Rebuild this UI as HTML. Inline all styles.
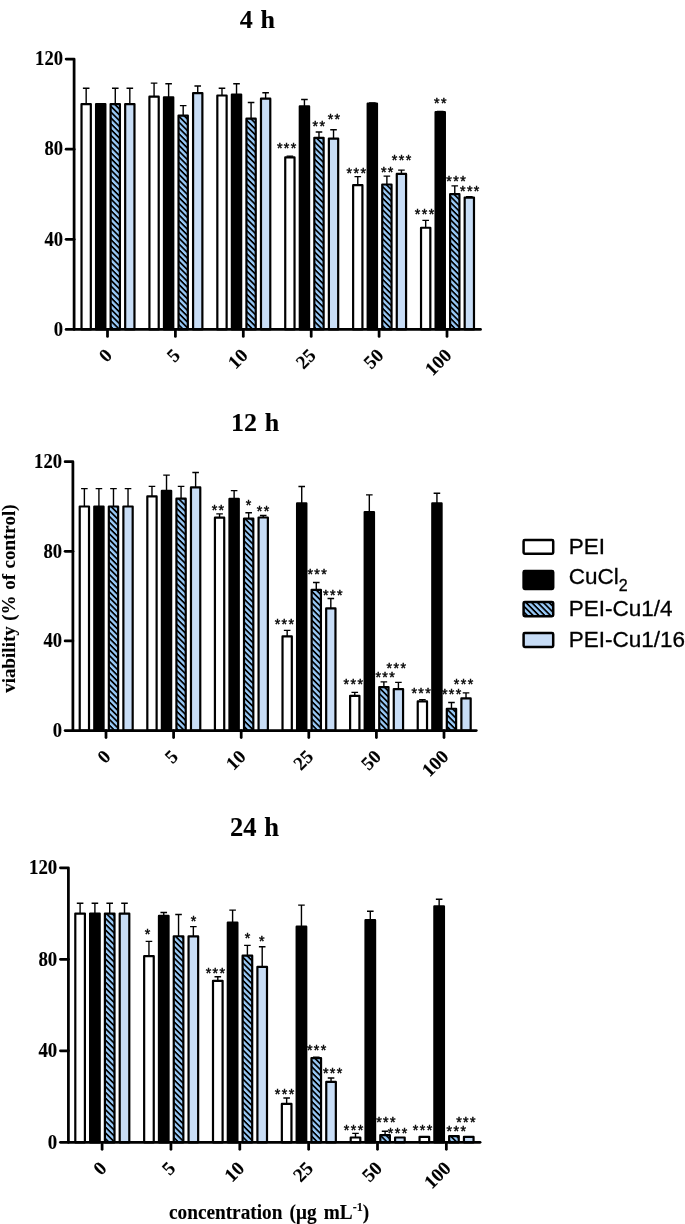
<!DOCTYPE html>
<html lang="en"><head><meta charset="utf-8"><title>Cell viability</title>
<style>html,body{margin:0;padding:0;background:#fff}body{width:685px;height:1224px;overflow:hidden}svg{display:block;will-change:transform;filter:blur(.45px)}
.t{font-family:"Liberation Serif","DejaVu Serif",serif;font-weight:bold;fill:#000;stroke:#000;stroke-width:.12px}.s{font-family:"Liberation Sans","DejaVu Sans",sans-serif;fill:#000;stroke:#000;stroke-width:.3px}.st{font-family:"Liberation Sans","DejaVu Sans",sans-serif;fill:#000;font-size:14.2px;text-anchor:middle;letter-spacing:1.4px;stroke:#000;stroke-width:.45px}
</style></head><body>
<svg width="685" height="1224" viewBox="0 0 685 1224">
<defs><pattern id="h" width="4.1" height="4.1" patternUnits="userSpaceOnUse" patternTransform="rotate(45)"><rect width="4.1" height="4.1" fill="#99caf8"/><rect width="4.1" height="1.75" fill="#000"/></pattern></defs>
<rect width="685" height="1224" fill="#fff"/>
<g>
<text class="t" x="257.4" y="27.8" font-size="26.0" word-spacing="1.3" text-anchor="middle">4 h</text>
<path d="M86.17 104.07V88.29M82.88 88.29H89.47" stroke="#000" stroke-width="1.4" fill="none"/>
<rect x="81.52" y="104.07" width="9.30" height="225.33" fill="#fff" stroke="#000" stroke-width="2.2" stroke-linejoin="round"/>
<rect x="96.07" y="104.07" width="9.30" height="225.33" fill="#000" stroke="#000" stroke-width="2.2" stroke-linejoin="round"/>
<path d="M115.28 104.07V88.29M111.98 88.29H118.58" stroke="#000" stroke-width="1.4" fill="none"/>
<rect x="110.62" y="104.07" width="9.30" height="225.33" fill="url(#h)" stroke="#000" stroke-width="2.2" stroke-linejoin="round"/>
<path d="M129.82 104.07V88.29M126.52 88.29H133.12" stroke="#000" stroke-width="1.4" fill="none"/>
<rect x="125.17" y="104.07" width="9.30" height="225.33" fill="#c8ddf6" stroke="#000" stroke-width="2.2" stroke-linejoin="round"/>
<path d="M154.07 96.63V83.11M150.77 83.11H157.38" stroke="#000" stroke-width="1.4" fill="none"/>
<rect x="149.42" y="96.63" width="9.30" height="232.77" fill="#fff" stroke="#000" stroke-width="2.2" stroke-linejoin="round"/>
<path d="M168.62 97.31V83.79M165.32 83.79H171.93" stroke="#000" stroke-width="1.4" fill="none"/>
<rect x="163.97" y="97.31" width="9.30" height="232.09" fill="#000" stroke="#000" stroke-width="2.2" stroke-linejoin="round"/>
<path d="M183.18 115.56V105.64M179.88 105.64H186.48" stroke="#000" stroke-width="1.4" fill="none"/>
<rect x="178.53" y="115.56" width="9.30" height="213.84" fill="url(#h)" stroke="#000" stroke-width="2.2" stroke-linejoin="round"/>
<path d="M197.73 93.03V86.04M194.43 86.04H201.03" stroke="#000" stroke-width="1.4" fill="none"/>
<rect x="193.08" y="93.03" width="9.30" height="236.37" fill="#c8ddf6" stroke="#000" stroke-width="2.2" stroke-linejoin="round"/>
<path d="M221.98 95.50V88.29M218.68 88.29H225.28" stroke="#000" stroke-width="1.4" fill="none"/>
<rect x="217.33" y="95.50" width="9.30" height="233.90" fill="#fff" stroke="#000" stroke-width="2.2" stroke-linejoin="round"/>
<path d="M236.53 94.60V83.79M233.22 83.79H239.83" stroke="#000" stroke-width="1.4" fill="none"/>
<rect x="231.88" y="94.60" width="9.30" height="234.80" fill="#000" stroke="#000" stroke-width="2.2" stroke-linejoin="round"/>
<path d="M251.08 118.71V102.49M247.78 102.49H254.38" stroke="#000" stroke-width="1.4" fill="none"/>
<rect x="246.43" y="118.71" width="9.30" height="210.69" fill="url(#h)" stroke="#000" stroke-width="2.2" stroke-linejoin="round"/>
<path d="M265.62 98.66V92.80M262.32 92.80H268.93" stroke="#000" stroke-width="1.4" fill="none"/>
<rect x="260.98" y="98.66" width="9.30" height="230.74" fill="#c8ddf6" stroke="#000" stroke-width="2.2" stroke-linejoin="round"/>
<path d="M289.88 157.47V156.12M286.58 156.12H293.18" stroke="#000" stroke-width="1.4" fill="none"/>
<rect x="285.23" y="157.47" width="9.30" height="171.93" fill="#fff" stroke="#000" stroke-width="2.2" stroke-linejoin="round"/>
<path d="M304.43 106.32V99.56M301.13 99.56H307.73" stroke="#000" stroke-width="1.4" fill="none"/>
<rect x="299.78" y="106.32" width="9.30" height="223.08" fill="#000" stroke="#000" stroke-width="2.2" stroke-linejoin="round"/>
<path d="M318.98 137.87V132.01M315.68 132.01H322.28" stroke="#000" stroke-width="1.4" fill="none"/>
<rect x="314.33" y="137.87" width="9.30" height="191.53" fill="url(#h)" stroke="#000" stroke-width="2.2" stroke-linejoin="round"/>
<path d="M333.53 138.54V129.75M330.23 129.75H336.83" stroke="#000" stroke-width="1.4" fill="none"/>
<rect x="328.88" y="138.54" width="9.30" height="190.86" fill="#c8ddf6" stroke="#000" stroke-width="2.2" stroke-linejoin="round"/>
<path d="M357.78 185.19V176.62M354.48 176.62H361.08" stroke="#000" stroke-width="1.4" fill="none"/>
<rect x="353.13" y="185.19" width="9.30" height="144.21" fill="#fff" stroke="#000" stroke-width="2.2" stroke-linejoin="round"/>
<path d="M372.33 103.62V102.94M369.03 102.94H375.63" stroke="#000" stroke-width="1.4" fill="none"/>
<rect x="367.68" y="103.62" width="9.30" height="225.78" fill="#000" stroke="#000" stroke-width="2.2" stroke-linejoin="round"/>
<path d="M386.88 184.51V176.17M383.57 176.17H390.18" stroke="#000" stroke-width="1.4" fill="none"/>
<rect x="382.23" y="184.51" width="9.30" height="144.89" fill="url(#h)" stroke="#000" stroke-width="2.2" stroke-linejoin="round"/>
<path d="M401.43 173.92V170.09M398.12 170.09H404.73" stroke="#000" stroke-width="1.4" fill="none"/>
<rect x="396.78" y="173.92" width="9.30" height="155.48" fill="#c8ddf6" stroke="#000" stroke-width="2.2" stroke-linejoin="round"/>
<path d="M425.68 227.77V220.34M422.38 220.34H428.98" stroke="#000" stroke-width="1.4" fill="none"/>
<rect x="421.03" y="227.77" width="9.30" height="101.63" fill="#fff" stroke="#000" stroke-width="2.2" stroke-linejoin="round"/>
<path d="M440.23 112.18V111.50M436.93 111.50H443.53" stroke="#000" stroke-width="1.4" fill="none"/>
<rect x="435.58" y="112.18" width="9.30" height="217.22" fill="#000" stroke="#000" stroke-width="2.2" stroke-linejoin="round"/>
<path d="M454.77 194.20V185.86M451.47 185.86H458.07" stroke="#000" stroke-width="1.4" fill="none"/>
<rect x="450.12" y="194.20" width="9.30" height="135.20" fill="url(#h)" stroke="#000" stroke-width="2.2" stroke-linejoin="round"/>
<path d="M469.32 197.58V196.68M466.02 196.68H472.62" stroke="#000" stroke-width="1.4" fill="none"/>
<rect x="464.68" y="197.58" width="9.30" height="131.82" fill="#c8ddf6" stroke="#000" stroke-width="2.2" stroke-linejoin="round"/>
<path d="M66.10 59.00H74.10V329.40" stroke="#000" stroke-width="2.75" fill="none" stroke-linejoin="round" stroke-linecap="round"/>
<path d="M66.10 329.40H480.50" stroke="#000" stroke-width="2.75" fill="none" stroke-linecap="round"/>
<text class="t" font-size="20.0" text-anchor="end" transform="translate(63.0 335.7) scale(.93 1)">0</text>
<path d="M66.10 239.27H74.10" stroke="#000" stroke-width="2.75" stroke-linecap="round"/>
<text class="t" font-size="20.0" text-anchor="end" transform="translate(63.0 245.6) scale(.93 1)">40</text>
<path d="M66.10 149.13H74.10" stroke="#000" stroke-width="2.75" stroke-linecap="round"/>
<text class="t" font-size="20.0" text-anchor="end" transform="translate(63.0 155.4) scale(.93 1)">80</text>
<text class="t" font-size="20.0" text-anchor="end" transform="translate(63.0 65.3) scale(.93 1)">120</text>
<path d="M107.50 329.40V336.40" stroke="#000" stroke-width="2.75" stroke-linecap="round"/>
<text class="t" font-size="19.0" text-anchor="end" transform="translate(113.2 356.6) rotate(-45)">0</text>
<path d="M175.40 329.40V336.40" stroke="#000" stroke-width="2.75" stroke-linecap="round"/>
<text class="t" font-size="19.0" text-anchor="end" transform="translate(181.1 356.6) rotate(-45)">5</text>
<path d="M243.30 329.40V336.40" stroke="#000" stroke-width="2.75" stroke-linecap="round"/>
<text class="t" font-size="19.0" text-anchor="end" transform="translate(249.0 356.6) rotate(-45)">10</text>
<path d="M311.20 329.40V336.40" stroke="#000" stroke-width="2.75" stroke-linecap="round"/>
<text class="t" font-size="19.0" text-anchor="end" transform="translate(316.9 356.6) rotate(-45)">25</text>
<path d="M379.10 329.40V336.40" stroke="#000" stroke-width="2.75" stroke-linecap="round"/>
<text class="t" font-size="19.0" text-anchor="end" transform="translate(384.8 356.6) rotate(-45)">50</text>
<path d="M447.00 329.40V336.40" stroke="#000" stroke-width="2.75" stroke-linecap="round"/>
<text class="t" font-size="19.0" text-anchor="end" transform="translate(452.7 356.6) rotate(-45)">100</text>
<text class="st" x="287.3" y="152.6">***</text>
<text class="st" x="319.5" y="130.6">**</text>
<text class="st" x="334.6" y="123.9">**</text>
<text class="st" x="357.0" y="177.6">***</text>
<text class="st" x="387.8" y="176.8">**</text>
<text class="st" x="402.2" y="164.7">***</text>
<text class="st" x="440.9" y="108.1">**</text>
<text class="st" x="425.2" y="218.5">***</text>
<text class="st" x="456.7" y="185.8">***</text>
<text class="st" x="470.4" y="196.2">***</text>
</g>
<g>
<text class="t" x="255.2" y="431.0" font-size="26.0" word-spacing="1.3" text-anchor="middle">12 h</text>
<path d="M84.38 506.50V488.58M81.08 488.58H87.67" stroke="#000" stroke-width="1.4" fill="none"/>
<rect x="79.72" y="506.50" width="9.30" height="224.00" fill="#fff" stroke="#000" stroke-width="2.2" stroke-linejoin="round"/>
<path d="M98.92 506.50V488.58M95.62 488.58H102.22" stroke="#000" stroke-width="1.4" fill="none"/>
<rect x="94.27" y="506.50" width="9.30" height="224.00" fill="#000" stroke="#000" stroke-width="2.2" stroke-linejoin="round"/>
<path d="M113.48 506.50V488.58M110.18 488.58H116.78" stroke="#000" stroke-width="1.4" fill="none"/>
<rect x="108.83" y="506.50" width="9.30" height="224.00" fill="url(#h)" stroke="#000" stroke-width="2.2" stroke-linejoin="round"/>
<path d="M128.03 506.50V488.58M124.73 488.58H131.33" stroke="#000" stroke-width="1.4" fill="none"/>
<rect x="123.38" y="506.50" width="9.30" height="224.00" fill="#c8ddf6" stroke="#000" stroke-width="2.2" stroke-linejoin="round"/>
<path d="M151.97 496.42V486.34M148.67 486.34H155.27" stroke="#000" stroke-width="1.4" fill="none"/>
<rect x="147.32" y="496.42" width="9.30" height="234.08" fill="#fff" stroke="#000" stroke-width="2.2" stroke-linejoin="round"/>
<path d="M166.52 490.82V475.14M163.22 475.14H169.82" stroke="#000" stroke-width="1.4" fill="none"/>
<rect x="161.87" y="490.82" width="9.30" height="239.68" fill="#000" stroke="#000" stroke-width="2.2" stroke-linejoin="round"/>
<path d="M181.07 498.66V486.34M177.77 486.34H184.38" stroke="#000" stroke-width="1.4" fill="none"/>
<rect x="176.42" y="498.66" width="9.30" height="231.84" fill="url(#h)" stroke="#000" stroke-width="2.2" stroke-linejoin="round"/>
<path d="M195.62 487.46V472.45M192.32 472.45H198.93" stroke="#000" stroke-width="1.4" fill="none"/>
<rect x="190.97" y="487.46" width="9.30" height="243.04" fill="#c8ddf6" stroke="#000" stroke-width="2.2" stroke-linejoin="round"/>
<path d="M219.57 517.70V513.89M216.27 513.89H222.88" stroke="#000" stroke-width="1.4" fill="none"/>
<rect x="214.92" y="517.70" width="9.30" height="212.80" fill="#fff" stroke="#000" stroke-width="2.2" stroke-linejoin="round"/>
<path d="M234.12 498.88V490.60M230.82 490.60H237.42" stroke="#000" stroke-width="1.4" fill="none"/>
<rect x="229.47" y="498.88" width="9.30" height="231.62" fill="#000" stroke="#000" stroke-width="2.2" stroke-linejoin="round"/>
<path d="M248.67 518.60V512.77M245.37 512.77H251.97" stroke="#000" stroke-width="1.4" fill="none"/>
<rect x="244.02" y="518.60" width="9.30" height="211.90" fill="url(#h)" stroke="#000" stroke-width="2.2" stroke-linejoin="round"/>
<path d="M263.22 517.48V515.46M259.92 515.46H266.52" stroke="#000" stroke-width="1.4" fill="none"/>
<rect x="258.57" y="517.48" width="9.30" height="213.02" fill="#c8ddf6" stroke="#000" stroke-width="2.2" stroke-linejoin="round"/>
<path d="M287.17 636.42V630.37M283.87 630.37H290.47" stroke="#000" stroke-width="1.4" fill="none"/>
<rect x="282.52" y="636.42" width="9.30" height="94.08" fill="#fff" stroke="#000" stroke-width="2.2" stroke-linejoin="round"/>
<path d="M301.72 503.36V486.56M298.42 486.56H305.02" stroke="#000" stroke-width="1.4" fill="none"/>
<rect x="297.07" y="503.36" width="9.30" height="227.14" fill="#000" stroke="#000" stroke-width="2.2" stroke-linejoin="round"/>
<path d="M316.27 589.83V582.44M312.97 582.44H319.57" stroke="#000" stroke-width="1.4" fill="none"/>
<rect x="311.62" y="589.83" width="9.30" height="140.67" fill="url(#h)" stroke="#000" stroke-width="2.2" stroke-linejoin="round"/>
<path d="M330.82 608.42V598.56M327.52 598.56H334.12" stroke="#000" stroke-width="1.4" fill="none"/>
<rect x="326.17" y="608.42" width="9.30" height="122.08" fill="#c8ddf6" stroke="#000" stroke-width="2.2" stroke-linejoin="round"/>
<path d="M354.77 695.78V692.42M351.47 692.42H358.07" stroke="#000" stroke-width="1.4" fill="none"/>
<rect x="350.12" y="695.78" width="9.30" height="34.72" fill="#fff" stroke="#000" stroke-width="2.2" stroke-linejoin="round"/>
<path d="M369.32 512.10V494.85M366.02 494.85H372.62" stroke="#000" stroke-width="1.4" fill="none"/>
<rect x="364.68" y="512.10" width="9.30" height="218.40" fill="#000" stroke="#000" stroke-width="2.2" stroke-linejoin="round"/>
<path d="M383.87 687.04V681.89M380.57 681.89H387.17" stroke="#000" stroke-width="1.4" fill="none"/>
<rect x="379.22" y="687.04" width="9.30" height="43.46" fill="url(#h)" stroke="#000" stroke-width="2.2" stroke-linejoin="round"/>
<path d="M398.42 689.06V682.34M395.12 682.34H401.72" stroke="#000" stroke-width="1.4" fill="none"/>
<rect x="393.77" y="689.06" width="9.30" height="41.44" fill="#c8ddf6" stroke="#000" stroke-width="2.2" stroke-linejoin="round"/>
<path d="M422.38 701.38V699.59M419.07 699.59H425.68" stroke="#000" stroke-width="1.4" fill="none"/>
<rect x="417.73" y="701.38" width="9.30" height="29.12" fill="#fff" stroke="#000" stroke-width="2.2" stroke-linejoin="round"/>
<path d="M436.93 503.36V493.28M433.62 493.28H440.23" stroke="#000" stroke-width="1.4" fill="none"/>
<rect x="432.28" y="503.36" width="9.30" height="227.14" fill="#000" stroke="#000" stroke-width="2.2" stroke-linejoin="round"/>
<path d="M451.47 708.77V702.50M448.17 702.50H454.77" stroke="#000" stroke-width="1.4" fill="none"/>
<rect x="446.82" y="708.77" width="9.30" height="21.73" fill="url(#h)" stroke="#000" stroke-width="2.2" stroke-linejoin="round"/>
<path d="M466.02 698.47V692.87M462.72 692.87H469.32" stroke="#000" stroke-width="1.4" fill="none"/>
<rect x="461.38" y="698.47" width="9.30" height="32.03" fill="#c8ddf6" stroke="#000" stroke-width="2.2" stroke-linejoin="round"/>
<path d="M65.10 461.70H72.90V730.50" stroke="#000" stroke-width="2.75" fill="none" stroke-linejoin="round" stroke-linecap="round"/>
<path d="M65.10 730.50H476.30" stroke="#000" stroke-width="2.75" fill="none" stroke-linecap="round"/>
<text class="t" font-size="20.0" text-anchor="end" transform="translate(62.0 736.8) scale(.93 1)">0</text>
<path d="M65.10 640.90H72.90" stroke="#000" stroke-width="2.75" stroke-linecap="round"/>
<text class="t" font-size="20.0" text-anchor="end" transform="translate(62.0 647.2) scale(.93 1)">40</text>
<path d="M65.10 551.30H72.90" stroke="#000" stroke-width="2.75" stroke-linecap="round"/>
<text class="t" font-size="20.0" text-anchor="end" transform="translate(62.0 557.6) scale(.93 1)">80</text>
<text class="t" font-size="20.0" text-anchor="end" transform="translate(62.0 468.0) scale(.93 1)">120</text>
<path d="M106.00 730.50V737.50" stroke="#000" stroke-width="2.75" stroke-linecap="round"/>
<text class="t" font-size="19.0" text-anchor="end" transform="translate(111.7 757.7) rotate(-45)">0</text>
<path d="M173.60 730.50V737.50" stroke="#000" stroke-width="2.75" stroke-linecap="round"/>
<text class="t" font-size="19.0" text-anchor="end" transform="translate(179.3 757.7) rotate(-45)">5</text>
<path d="M241.20 730.50V737.50" stroke="#000" stroke-width="2.75" stroke-linecap="round"/>
<text class="t" font-size="19.0" text-anchor="end" transform="translate(246.9 757.7) rotate(-45)">10</text>
<path d="M308.80 730.50V737.50" stroke="#000" stroke-width="2.75" stroke-linecap="round"/>
<text class="t" font-size="19.0" text-anchor="end" transform="translate(314.5 757.7) rotate(-45)">25</text>
<path d="M376.40 730.50V737.50" stroke="#000" stroke-width="2.75" stroke-linecap="round"/>
<text class="t" font-size="19.0" text-anchor="end" transform="translate(382.1 757.7) rotate(-45)">50</text>
<path d="M444.00 730.50V737.50" stroke="#000" stroke-width="2.75" stroke-linecap="round"/>
<text class="t" font-size="19.0" text-anchor="end" transform="translate(449.7 757.7) rotate(-45)">100</text>
<text class="st" x="218.6" y="514.7">**</text>
<text class="st" x="249.1" y="510.0">*</text>
<text class="st" x="263.7" y="516.2">**</text>
<text class="st" x="285.1" y="628.9">***</text>
<text class="st" x="317.8" y="578.7">***</text>
<text class="st" x="333.5" y="599.6">***</text>
<text class="st" x="354.0" y="689.4">***</text>
<text class="st" x="385.8" y="682.2">***</text>
<text class="st" x="397.0" y="673.0">***</text>
<text class="st" x="421.8" y="698.0">***</text>
<text class="st" x="452.3" y="699.3">***</text>
<text class="st" x="464.2" y="688.9">***</text>
</g>
<g>
<text class="t" x="254.5" y="836.0" font-size="26.5" word-spacing="1.3" text-anchor="middle">24 h</text>
<path d="M80.10 913.59V903.30M76.80 903.30H83.40" stroke="#000" stroke-width="1.4" fill="none"/>
<rect x="75.30" y="913.59" width="9.60" height="228.71" fill="#fff" stroke="#000" stroke-width="2.2" stroke-linejoin="round"/>
<path d="M94.90 913.59V903.30M91.60 903.30H98.20" stroke="#000" stroke-width="1.4" fill="none"/>
<rect x="90.10" y="913.59" width="9.60" height="228.71" fill="#000" stroke="#000" stroke-width="2.2" stroke-linejoin="round"/>
<path d="M109.70 913.59V903.30M106.40 903.30H113.00" stroke="#000" stroke-width="1.4" fill="none"/>
<rect x="104.90" y="913.59" width="9.60" height="228.71" fill="url(#h)" stroke="#000" stroke-width="2.2" stroke-linejoin="round"/>
<path d="M124.50 913.59V903.30M121.20 903.30H127.80" stroke="#000" stroke-width="1.4" fill="none"/>
<rect x="119.70" y="913.59" width="9.60" height="228.71" fill="#c8ddf6" stroke="#000" stroke-width="2.2" stroke-linejoin="round"/>
<path d="M148.95 956.13V941.38M145.65 941.38H152.25" stroke="#000" stroke-width="1.4" fill="none"/>
<rect x="144.15" y="956.13" width="9.60" height="186.17" fill="#fff" stroke="#000" stroke-width="2.2" stroke-linejoin="round"/>
<path d="M163.75 915.88V912.45M160.45 912.45H167.05" stroke="#000" stroke-width="1.4" fill="none"/>
<rect x="158.95" y="915.88" width="9.60" height="226.42" fill="#000" stroke="#000" stroke-width="2.2" stroke-linejoin="round"/>
<path d="M178.55 936.23V914.51M175.25 914.51H181.85" stroke="#000" stroke-width="1.4" fill="none"/>
<rect x="173.75" y="936.23" width="9.60" height="206.07" fill="url(#h)" stroke="#000" stroke-width="2.2" stroke-linejoin="round"/>
<path d="M193.35 936.46V926.63M190.05 926.63H196.65" stroke="#000" stroke-width="1.4" fill="none"/>
<rect x="188.55" y="936.46" width="9.60" height="205.84" fill="#c8ddf6" stroke="#000" stroke-width="2.2" stroke-linejoin="round"/>
<path d="M217.80 980.83V976.72M214.50 976.72H221.10" stroke="#000" stroke-width="1.4" fill="none"/>
<rect x="213.00" y="980.83" width="9.60" height="161.47" fill="#fff" stroke="#000" stroke-width="2.2" stroke-linejoin="round"/>
<path d="M232.60 922.51V910.16M229.30 910.16H235.90" stroke="#000" stroke-width="1.4" fill="none"/>
<rect x="227.80" y="922.51" width="9.60" height="219.79" fill="#000" stroke="#000" stroke-width="2.2" stroke-linejoin="round"/>
<path d="M247.40 955.67V945.38M244.10 945.38H250.70" stroke="#000" stroke-width="1.4" fill="none"/>
<rect x="242.60" y="955.67" width="9.60" height="186.63" fill="url(#h)" stroke="#000" stroke-width="2.2" stroke-linejoin="round"/>
<path d="M262.20 966.88V946.75M258.90 946.75H265.50" stroke="#000" stroke-width="1.4" fill="none"/>
<rect x="257.40" y="966.88" width="9.60" height="175.42" fill="#c8ddf6" stroke="#000" stroke-width="2.2" stroke-linejoin="round"/>
<path d="M286.65 1103.88V1097.93M283.35 1097.93H289.95" stroke="#000" stroke-width="1.4" fill="none"/>
<rect x="281.85" y="1103.88" width="9.60" height="38.42" fill="#fff" stroke="#000" stroke-width="2.2" stroke-linejoin="round"/>
<path d="M301.45 926.63V905.13M298.15 905.13H304.75" stroke="#000" stroke-width="1.4" fill="none"/>
<rect x="296.65" y="926.63" width="9.60" height="215.67" fill="#000" stroke="#000" stroke-width="2.2" stroke-linejoin="round"/>
<path d="M316.25 1058.14V1057.22M312.95 1057.22H319.55" stroke="#000" stroke-width="1.4" fill="none"/>
<rect x="311.45" y="1058.14" width="9.60" height="84.16" fill="url(#h)" stroke="#000" stroke-width="2.2" stroke-linejoin="round"/>
<path d="M331.05 1081.92V1078.03M327.75 1078.03H334.35" stroke="#000" stroke-width="1.4" fill="none"/>
<rect x="326.25" y="1081.92" width="9.60" height="60.38" fill="#c8ddf6" stroke="#000" stroke-width="2.2" stroke-linejoin="round"/>
<path d="M355.50 1137.50V1133.38M352.20 1133.38H358.80" stroke="#000" stroke-width="1.4" fill="none"/>
<rect x="350.70" y="1137.50" width="9.60" height="4.80" fill="#fff" stroke="#000" stroke-width="2.2" stroke-linejoin="round"/>
<path d="M370.30 920.22V911.30M367.00 911.30H373.60" stroke="#000" stroke-width="1.4" fill="none"/>
<rect x="365.50" y="920.22" width="9.60" height="222.08" fill="#000" stroke="#000" stroke-width="2.2" stroke-linejoin="round"/>
<path d="M385.10 1135.21V1131.32M381.80 1131.32H388.40" stroke="#000" stroke-width="1.4" fill="none"/>
<rect x="380.30" y="1135.21" width="9.60" height="7.09" fill="url(#h)" stroke="#000" stroke-width="2.2" stroke-linejoin="round"/>
<rect x="395.10" y="1137.50" width="9.60" height="4.80" fill="#c8ddf6" stroke="#000" stroke-width="2.2" stroke-linejoin="round"/>
<rect x="419.55" y="1136.81" width="9.60" height="5.49" fill="#fff" stroke="#000" stroke-width="2.2" stroke-linejoin="round"/>
<path d="M439.15 906.27V899.18M435.85 899.18H442.45" stroke="#000" stroke-width="1.4" fill="none"/>
<rect x="434.35" y="906.27" width="9.60" height="236.03" fill="#000" stroke="#000" stroke-width="2.2" stroke-linejoin="round"/>
<rect x="449.15" y="1136.12" width="9.60" height="6.18" fill="url(#h)" stroke="#000" stroke-width="2.2" stroke-linejoin="round"/>
<rect x="463.95" y="1136.81" width="9.60" height="5.49" fill="#c8ddf6" stroke="#000" stroke-width="2.2" stroke-linejoin="round"/>
<path d="M60.40 867.85H68.40V1142.30" stroke="#000" stroke-width="2.75" fill="none" stroke-linejoin="round" stroke-linecap="round"/>
<path d="M60.40 1142.30H480.10" stroke="#000" stroke-width="2.75" fill="none" stroke-linecap="round"/>
<text class="t" font-size="20.3" text-anchor="end" transform="translate(57.3 1148.6) scale(.93 1)">0</text>
<path d="M60.40 1050.82H68.40" stroke="#000" stroke-width="2.75" stroke-linecap="round"/>
<text class="t" font-size="20.3" text-anchor="end" transform="translate(57.3 1057.1) scale(.93 1)">40</text>
<path d="M60.40 959.33H68.40" stroke="#000" stroke-width="2.75" stroke-linecap="round"/>
<text class="t" font-size="20.3" text-anchor="end" transform="translate(57.3 965.6) scale(.93 1)">80</text>
<text class="t" font-size="20.3" text-anchor="end" transform="translate(57.3 874.1) scale(.93 1)">120</text>
<path d="M102.10 1142.30V1149.30" stroke="#000" stroke-width="2.75" stroke-linecap="round"/>
<text class="t" font-size="19.2" text-anchor="end" transform="translate(107.8 1169.5) rotate(-45)">0</text>
<path d="M170.95 1142.30V1149.30" stroke="#000" stroke-width="2.75" stroke-linecap="round"/>
<text class="t" font-size="19.2" text-anchor="end" transform="translate(176.6 1169.5) rotate(-45)">5</text>
<path d="M239.80 1142.30V1149.30" stroke="#000" stroke-width="2.75" stroke-linecap="round"/>
<text class="t" font-size="19.2" text-anchor="end" transform="translate(245.5 1169.5) rotate(-45)">10</text>
<path d="M308.65 1142.30V1149.30" stroke="#000" stroke-width="2.75" stroke-linecap="round"/>
<text class="t" font-size="19.2" text-anchor="end" transform="translate(314.3 1169.5) rotate(-45)">25</text>
<path d="M377.50 1142.30V1149.30" stroke="#000" stroke-width="2.75" stroke-linecap="round"/>
<text class="t" font-size="19.2" text-anchor="end" transform="translate(383.2 1169.5) rotate(-45)">50</text>
<path d="M446.35 1142.30V1149.30" stroke="#000" stroke-width="2.75" stroke-linecap="round"/>
<text class="t" font-size="19.2" text-anchor="end" transform="translate(452.1 1169.5) rotate(-45)">100</text>
<text class="st" x="148.1" y="939.3">*</text>
<text class="st" x="194.2" y="925.9">*</text>
<text class="st" x="216.1" y="978.0">***</text>
<text class="st" x="248.3" y="943.2">*</text>
<text class="st" x="262.5" y="946.2">*</text>
<text class="st" x="285.2" y="1098.5">***</text>
<text class="st" x="317.3" y="1055.2">***</text>
<text class="st" x="333.3" y="1078.3">***</text>
<text class="st" x="354.2" y="1134.5">***</text>
<text class="st" x="386.6" y="1126.8">***</text>
<text class="st" x="398.2" y="1138.0">***</text>
<text class="st" x="423.2" y="1134.8">***</text>
<text class="st" x="457.0" y="1135.5">***</text>
<text class="st" x="466.6" y="1127.4">***</text>
</g>
<text class="t" font-size="19" word-spacing="0.8" text-anchor="middle" transform="translate(15.1 598.6) rotate(-90)">viability (% of control)</text>
<text class="t" font-size="20.6" word-spacing="2.6" transform="translate(169.0 1218.6) scale(.935 1)">concentration (μg mL<tspan font-size="13" dy="-8">-1</tspan><tspan dy="8">)</tspan></text>
<rect x="523.6" y="540.0" width="29.6" height="13.8" rx="1.2" fill="#fff" stroke="#000" stroke-width="2.5"/>
<text class="s" font-size="22.5" x="568.7" y="554.0">PEI</text>
<rect x="523.6" y="571.0" width="29.6" height="18.0" rx="1.2" fill="#000" stroke="#000" stroke-width="2.5"/>
<text class="s" font-size="22.5" x="568.7" y="584.4">CuCl<tspan font-size="16" dy="6.3">2</tspan></text>
<rect x="523.6" y="601.9" width="29.6" height="14.4" rx="1.2" fill="url(#h)" stroke="#000" stroke-width="2.5"/>
<text class="s" font-size="22.5" x="568.7" y="616.0">PEI-Cu1/4</text>
<rect x="523.6" y="633.0" width="29.6" height="13.9" rx="1.2" fill="#c8ddf6" stroke="#000" stroke-width="2.5"/>
<text class="s" font-size="22.5" x="568.7" y="646.6">PEI-Cu1/16</text>
</svg></body></html>
